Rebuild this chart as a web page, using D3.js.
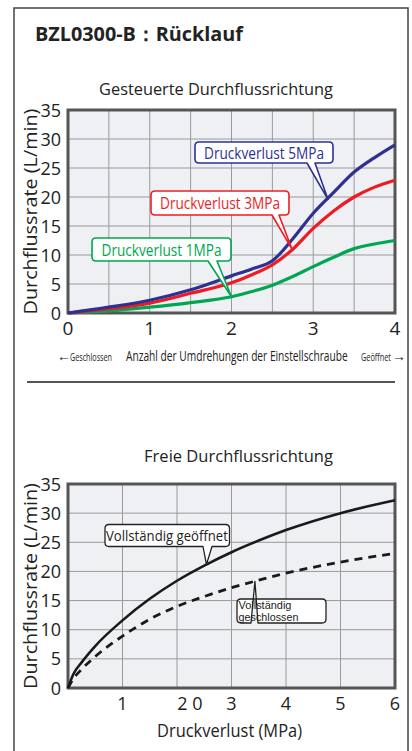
<!DOCTYPE html>
<html><head><meta charset="utf-8">
<script src="https://cdn.jsdelivr.net/npm/d3@7"></script>
<style>
html,body{margin:0;padding:0;background:#fff;}
svg{display:block;font-family:"Open Sans","Noto Sans",sans-serif;}
</style></head>
<body><svg id="c" width="412" height="751"></svg>
<script>
// ---- data: controlled flow direction (turns of adjusting screw) ----
const turns     = [0, 0.5, 1, 1.5, 2, 2.25, 2.5, 2.75, 3, 3.25, 3.5, 3.75, 4];
const flow5MPa  = [0, 1.0, 2.2, 4.0, 6.4, 7.6, 9.0, 12.8, 17.2, 20.8, 24.3, 26.8, 29.0];
const flow3MPa  = [0, 0.7, 1.7, 3.4, 5.2, 6.6, 8.3, 11.0, 14.6, 17.6, 20.0, 21.7, 22.9];
const flow1MPa  = [0, 0.35, 1.0, 1.8, 2.8, 3.7, 4.8, 6.3, 8.0, 9.6, 11.1, 11.9, 12.5];
const turnTicks = [0, 1, 2, 3, 4];
const flowTicks = [0, 5, 10, 15, 20, 25, 30, 35];
const seriesLabels = ["Druckverlust 5MPa", "Druckverlust 3MPa", "Druckverlust 1MPa"];
// ---- data: free flow direction (pressure loss MPa) ----
const pressure   = [0, 0.1, 0.25, 0.5, 1, 1.5, 2, 2.5, 3, 3.5, 4, 5, 6];
const fullyOpen  = [0, 2.4, 4.4, 7.2, 11.6, 15.3, 18.4, 21.0, 23.3, 25.3, 27.1, 30.0, 32.2];
const fullyClosed= [0, 1.6, 3.2, 5.4, 8.9, 11.8, 14.0, 15.7, 17.2, 18.5, 19.7, 21.6, 23.1];
const pressureTicks  = [1, 2, 3, 4, 5, 6];
const pressureLabels = ["1", "2 0", "3", "4", "5", "6"];
const freeLabels = ["Vollständig geöffnet", ["Vollständig", "geschlossen"]];

const svg = d3.select("#c");
const FRAME = "#555", GRID = "#9a9a9a", BG = "#eff0f3";
const BLUE = "#2e3192", RED = "#ed1c24", GREEN = "#00a651";

// place text at (x,y) and squeeze/stretch it horizontally to width w
function fitAt(parent, str, x, y, w, opts = {}) {
  const t = parent.append("text").attr("font-size", opts.size || 14).attr("fill", opts.fill || "#222")
    .attr("text-anchor", opts.anchor || "start").text(str);
  if (opts.weight) t.attr("font-weight", opts.weight);
  if (opts.family) t.attr("font-family", opts.family);
  const len = t.node().getComputedTextLength() || w;
  const rot = opts.rotate ? ` rotate(${opts.rotate})` : "";
  t.attr("transform", `translate(${x},${y})${rot} scale(${w/len},1)`);
  return t;
}

// outer frame
svg.append("rect").attr("x",14).attr("y",8).attr("width",394).attr("height",800)
  .attr("fill","none").attr("stroke","#444").attr("stroke-width",1.5);

fitAt(svg, "BZL0300-B：Rücklauf", 35, 41, 208, {size:20, weight:"bold"});

function drawPanel(cfg){
  const g = svg.append("g");
  const x = d3.scaleLinear().domain(cfg.xDomain).range([68, 395]);
  const y = d3.scaleLinear().domain([0, 35]).range([cfg.bottom, cfg.top]);
  g.append("rect").attr("x",68).attr("y",cfg.top).attr("width",327).attr("height",cfg.bottom-cfg.top).attr("fill",BG);
  // grid
  g.append("g").selectAll("line").data(d3.range(cfg.xDomain[0], cfg.xDomain[1]+1e-9, cfg.xGrid)).join("line")
    .attr("x1",d=>x(d)).attr("x2",d=>x(d)).attr("y1",cfg.top).attr("y2",cfg.bottom)
    .attr("stroke",GRID).attr("stroke-width",1);
  g.append("g").selectAll("line").data(flowTicks).join("line")
    .attr("x1",68).attr("x2",395).attr("y1",d=>y(d)).attr("y2",d=>y(d))
    .attr("stroke",GRID).attr("stroke-width",1);
  g.append("rect").attr("x",68).attr("y",cfg.top).attr("width",327).attr("height",cfg.bottom-cfg.top)
    .attr("fill","none").attr("stroke",FRAME).attr("stroke-width",3);
  // y ticks
  g.append("g").selectAll("text").data(flowTicks).join("text")
    .attr("x",61).attr("y",d=>y(d)+6.5).attr("text-anchor","end").attr("font-size",18).attr("fill","#222")
    .text(d=>d);
  // y title
  fitAt(g, "Durchflussrate (L/min)", 37, (cfg.top+cfg.bottom)/2, 206, {size:18, anchor:"middle", rotate:-90});
  return {g,x,y};
}

// ---------- top panel ----------
const topP = drawPanel({xDomain:[0,4], xGrid:0.5, top:110, bottom:313});
fitAt(svg, "Gesteuerte Durchflussrichtung", 216, 95, 234, {size:16.5, anchor:"middle"});
topP.g.append("g").selectAll("text").data(turnTicks).join("text")
  .attr("x",d=>topP.x(d)).attr("y",335).attr("text-anchor","middle").attr("font-size",19).attr("fill","#222").text(d=>d);

const lineTop = d3.line().x((d,i)=>topP.x(turns[i])).y(d=>topP.y(d)).curve(d3.curveMonotoneX);
[[flow1MPa,GREEN],[flow3MPa,RED],[flow5MPa,BLUE]].forEach(([arr,c])=>{
  topP.g.append("path").attr("d",lineTop(arr)).attr("fill","none").attr("stroke",c).attr("stroke-width",3.2)
    .attr("stroke-linejoin","round");
});

function callout(g, box, base, tip, color, sw){
  const [x0,y0,x1,y1] = box, r = 4;
  const p = `M${x0+r},${y0} H${x1-r} Q${x1},${y0} ${x1},${y0+r} V${y1-r} Q${x1},${y1} ${x1-r},${y1}`+
    ` H${base[1]} L${tip[0]},${tip[1]} L${base[0]},${y1} H${x0+r} Q${x0},${y1} ${x0},${y1-r} V${y0+r} Q${x0},${y0} ${x0+r},${y0} Z`;
  g.append("path").attr("d",p).attr("fill","#fff").attr("stroke",color).attr("stroke-width",sw).attr("stroke-linejoin","round");
}
// anchors on curves (data coordinates)
const anchor5 = [3.18, 19.6], anchor3 = [2.74, 11.0], anchor1 = [2.0, 2.8];
callout(topP.g,[195,142,333,163],[307,315],[topP.x(anchor5[0]),topP.y(anchor5[1])],BLUE,1.6);
callout(topP.g,[151,191,289,215],[272,279],[topP.x(anchor3[0]),topP.y(anchor3[1])],RED,1.6);
callout(topP.g,[92,238,231,261],[208,217],[topP.x(anchor1[0]),topP.y(anchor1[1])],GREEN,1.6);
[[seriesLabels[0],264,158.5,BLUE],[seriesLabels[1],220,209,RED],[seriesLabels[2],161.5,255.5,GREEN]].forEach(([t,cx,by,c])=>{
  fitAt(topP.g, t, cx, by, 120, {size:15.5, anchor:"middle", fill:c});
});

// axis caption row
const capY = 361;
svg.append("text").attr("x",57).attr("y",capY).attr("fill","#222").attr("font-size",14).text("←");
fitAt(svg, "Geschlossen", 70, capY, 42, {size:10.5});
fitAt(svg, "Anzahl der Umdrehungen der Einstellschraube", 126, capY, 222, {size:14.5});
fitAt(svg, "Geöffnet", 361, capY, 30, {size:10});
svg.append("text").attr("x",392).attr("y",capY).attr("fill","#222").attr("font-size",14).text("→");

// separator
svg.append("line").attr("x1",27).attr("x2",395).attr("y1",382).attr("y2",382).attr("stroke",FRAME).attr("stroke-width",2);

// ---------- bottom panel ----------
const botP = drawPanel({xDomain:[0,6], xGrid:1, top:484, bottom:688});
fitAt(svg, "Freie Durchflussrichtung", 238.5, 462, 189, {size:16.5, anchor:"middle"});
botP.g.append("g").selectAll("text").data(pressureTicks).join("text")
  .attr("x",d=>botP.x(d)).attr("dx",(d,i)=>pressureLabels[i].length>1?13:0)
  .attr("y",710).attr("text-anchor","middle").attr("font-size",18).attr("fill","#222")
  .attr("xml:space","preserve").text((d,i)=>pressureLabels[i]);
fitAt(svg, "Druckverlust (MPa)", 229.5, 737, 145, {size:17.5, anchor:"middle"});

const lineBot = d3.line().x((d,i)=>botP.x(pressure[i])).y(d=>botP.y(d)).curve(d3.curveMonotoneX);
botP.g.append("path").attr("d",lineBot(fullyClosed)).attr("fill","none").attr("stroke","#1a1a1a")
  .attr("stroke-width",2.8).attr("stroke-dasharray","8,6");
botP.g.append("path").attr("d",lineBot(fullyOpen)).attr("fill","none").attr("stroke","#1a1a1a")
  .attr("stroke-width",2.6);

const anchorOpen = [2.54, 21.2], anchorClosed = [3.43, 18.3];
callout(botP.g,[105,524.5,229.5,546.5],[203,212],[botP.x(anchorOpen[0]),botP.y(anchorOpen[1])],"#222",1.3);
callout(botP.g,[237,599,326,623],[251,258],[botP.x(anchorClosed[0]),botP.y(anchorClosed[1])],"#222",1.3);
fitAt(botP.g, freeLabels[0], 106, 541, 122, {size:14});
fitAt(botP.g, freeLabels[1][0], 238.5, 608.5, 53, {size:10, family:"Liberation Sans"});
fitAt(botP.g, freeLabels[1][1], 238.5, 620.5, 60, {size:10, family:"Liberation Sans"});
</script></body></html>
